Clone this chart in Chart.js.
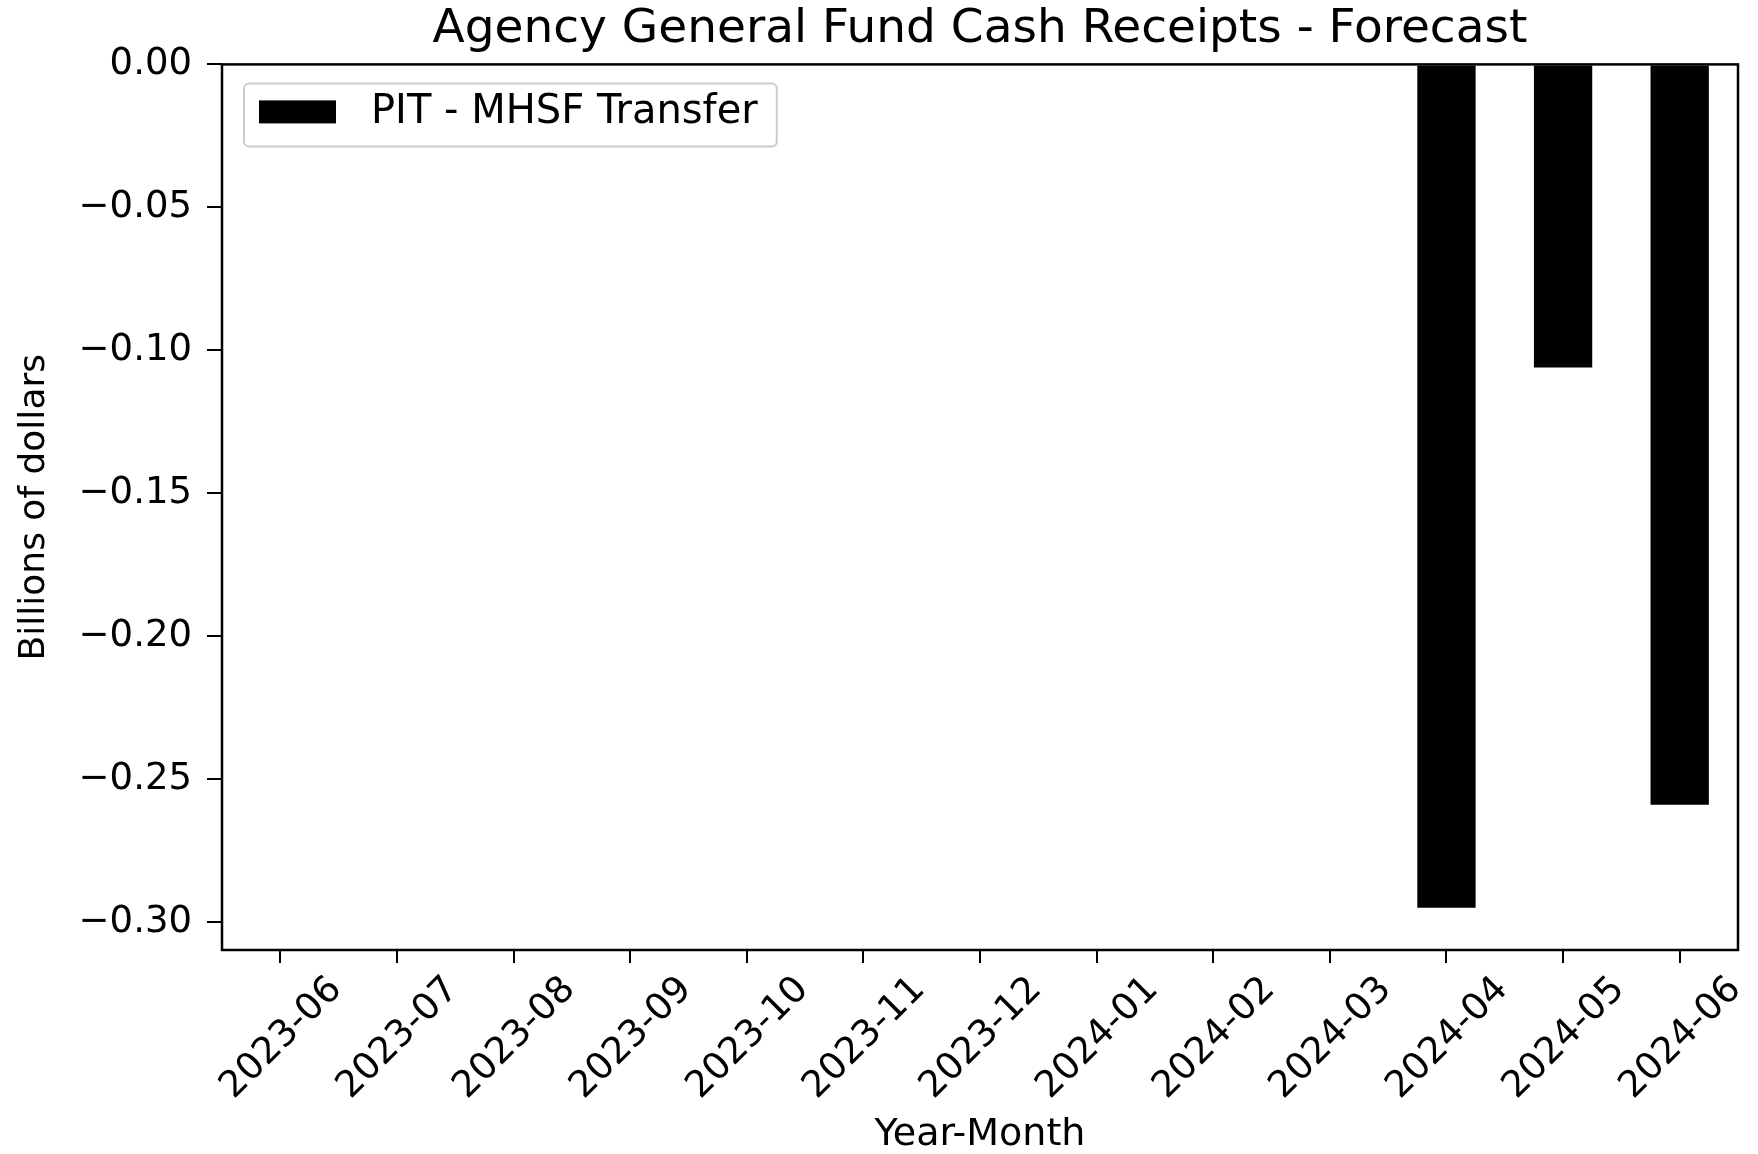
<!DOCTYPE html>
<html lang="en">
<head>
    <meta charset="UTF-8">
    <title>Agency General Fund Cash Receipts - Forecast</title>
    <script src="https://cdn.jsdelivr.net/npm/chart.js"></script>
    <style>
        body {
            margin: 0;
            background: #fff;
        }
        #wrap {
            width: 1758px;
            height: 1154px;
        }
    </style>
</head>
<body>
    <div id="wrap"><canvas id="cashChart"></canvas></div>

    <script>
        // data (billions of dollars)
        const months = ['2023-06', '2023-07', '2023-08', '2023-09', '2023-10', '2023-11', '2023-12',
                        '2024-01', '2024-02', '2024-03', '2024-04', '2024-05', '2024-06'];
        const mhsfTransfer = [0, 0, 0, 0, 0, 0, 0, 0, 0, 0, -0.295, -0.106, -0.259];
        const yTicks = [0, -0.05, -0.10, -0.15, -0.20, -0.25, -0.30];

        const FONT = "'DejaVu Sans', sans-serif";

        // plot frame + a matplotlib style legend box in the upper left corner
        const frames = {
            id: 'frames',
            afterLayout(chart) {
                // centre the title over the plot, not the whole canvas
                const t = chart.titleBlock;
                if (t) {
                    t.left = chart.chartArea.left;
                    t.right = chart.chartArea.right;
                }
            },
            beforeDraw(chart) {
                const ctx = chart.ctx;
                ctx.save();
                ctx.fillStyle = '#fff';
                ctx.fillRect(0, 0, chart.width, chart.height);
                ctx.restore();
            },
            afterDatasetsDraw(chart) {
                const a = chart.chartArea;
                const ctx = chart.ctx;
                const ds = chart.data.datasets[0];
                ctx.save();
                ctx.font = "40px " + FONT;
                const tw = ctx.measureText(ds.label).width;
                const fx = a.left + 22, fy = a.top + 19;
                const bx = fx + 15, by = fy + 17;
                const tx = bx + 77 + 35;
                ctx.fillStyle = 'rgba(255,255,255,0.8)';
                ctx.strokeStyle = '#cccccc';
                ctx.lineWidth = 2;
                ctx.beginPath();
                ctx.roundRect(fx, fy, tx + tw + 19 - fx, 63, 5);
                ctx.fill();
                ctx.stroke();
                ctx.fillStyle = ds.backgroundColor;
                ctx.fillRect(bx, by, 77, 23);
                ctx.fillStyle = '#000';
                ctx.textBaseline = 'middle';
                ctx.fillText(ds.label, tx, by + 12);
                ctx.restore();
            },
            afterDraw(chart) {
                const a = chart.chartArea;
                const ctx = chart.ctx;
                ctx.save();
                ctx.strokeStyle = '#000';
                ctx.lineWidth = 2.5;
                ctx.strokeRect(a.left, a.top, a.right - a.left, a.bottom - a.top);
                ctx.restore();
            }
        };

        new Chart(document.getElementById('cashChart'), {
            type: 'bar',
            data: {
                labels: months,
                datasets: [{
                    label: 'PIT - MHSF Transfer',
                    data: mhsfTransfer,
                    backgroundColor: '#000',
                    borderWidth: 0,
                    barPercentage: 0.5,
                    categoryPercentage: 1.0
                }]
            },
            options: {
                responsive: true,
                maintainAspectRatio: false,
                animation: false,
                layout: { padding: { left: 0, right: 20, top: 0, bottom: 0 } },
                plugins: {
                    title: {
                        display: true,
                        text: 'Agency General Fund Cash Receipts - Forecast',
                        color: '#000',
                        font: { family: FONT, size: 47, weight: 'normal' },
                        padding: { top: 2, bottom: 6 }
                    },
                    legend: { display: false },
                    tooltip: { enabled: false }
                },
                scales: {
                    x: {
                        offset: true,
                        border: { display: false },
                        grid: { offset: false, drawOnChartArea: false, drawTicks: true, tickLength: 13, color: '#000', lineWidth: 2 },
                        ticks: {
                            color: '#000',
                            font: { family: FONT, size: 37 },
                            minRotation: 45,
                            maxRotation: 45,
                            autoSkip: false,
                            labelOffset: 56,
                            padding: 5
                        },
                        title: {
                            display: true,
                            text: 'Year-Month',
                            color: '#000',
                            font: { family: FONT, size: 38 },
                            padding: { top: 0, bottom: -4 }
                        },
                        afterFit(scale) { scale.height = 204; }
                    },
                    y: {
                        min: -0.3098,
                        max: 0,
                        border: { display: false },
                        grid: { drawOnChartArea: false, drawTicks: true, tickLength: 15, color: '#000', lineWidth: 2 },
                        afterBuildTicks(scale) {
                            scale.ticks = yTicks.map(v => ({ value: v }));
                        },
                        ticks: {
                            color: '#000',
                            font: { family: FONT, size: 37 },
                            padding: 15,
                            callback: v => (v < 0 ? '\u2212' : '') + Math.abs(v).toFixed(2)
                        },
                        title: {
                            display: true,
                            text: 'Billions of dollars',
                            color: '#000',
                            font: { family: FONT, size: 36 },
                            padding: { top: 13, bottom: 4 }
                        },
                        afterFit(scale) { scale.width = 222; }
                    }
                }
            },
            plugins: [frames]
        });
    </script>
</body>
</html>
